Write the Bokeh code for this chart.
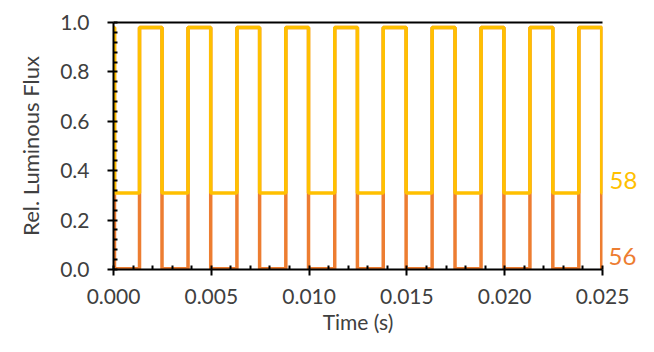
from bokeh.plotting import figure
from bokeh.models import (Range1d, SingleIntervalTicker, FixedTicker, NumeralTickFormatter,
                          LinearAxis, ColumnDataSource)
from bokeh.embed import file_html
from bokeh.resources import INLINE

# ---- data (time in ms) ----
rise_ms = [1.33, 3.81, 6.31, 8.81, 11.31, 13.79, 16.29, 18.79, 21.29, 23.79]
fall_ms = [0.05, 2.48, 4.97, 7.47, 9.97, 12.47, 14.96, 17.46, 19.96, 22.46, 24.96]
end_ms = 25.0
series_names = ["58", "56"]
high_levels = [0.98, 0.98]
low_levels = [0.31, 0.003]
series_colors = ["#FFC000", "#ED7D31"]
x_label = "Time (s)"
y_label = "Rel. Luminous Flux"


def square_wave(high, low):
    events = sorted([(f, "fall") for f in fall_ms] + [(r, "rise") for r in rise_ms])
    t = [0.0]
    y = [high]
    for when, kind in events:
        a, b = (high, low) if kind == "fall" else (low, high)
        t += [when / 1000.0, when / 1000.0]
        y += [a, b]
    t.append(end_ms / 1000.0)
    y.append(y[-1])
    return t, y


p = figure(width=654, height=352, output_backend="svg", toolbar_location=None,
           x_range=Range1d(0, 0.025), y_range=Range1d(0, 1.0),
           min_border_left=113, min_border_right=52, min_border_top=22, min_border_bottom=83)
p.outline_line_color = None
p.xgrid.visible = False
p.ygrid.visible = False
p.background_fill_color = "white"
p.border_fill_color = "white"

# draw orange first, yellow on top
for i in [1, 0]:
    t, y = square_wave(high_levels[i], low_levels[i])
    src = ColumnDataSource(dict(t=t, y=y))
    p.line("t", "y", source=src, line_color=series_colors[i], line_width=3.5)

font = "Lato"
txt_col = "#404040"

xa = p.xaxis[0]
xa.ticker = SingleIntervalTicker(interval=0.005, num_minor_ticks=5)
xa.formatter = NumeralTickFormatter(format="0.000")
ya = p.yaxis[0]
ya.ticker = SingleIntervalTicker(interval=0.2, num_minor_ticks=5)
ya.formatter = NumeralTickFormatter(format="0.0")

for ax in (xa, ya):
    ax.axis_line_color = "black"
    ax.axis_line_width = 2
    ax.major_tick_line_color = "black"
    ax.major_tick_line_width = 2
    ax.major_tick_out = 6
    ax.major_tick_in = 0
    ax.minor_tick_line_color = "black"
    ax.minor_tick_line_width = 2
    ax.minor_tick_in = 4
    ax.minor_tick_out = 0
    ax.major_label_text_font = font
    ax.major_label_text_font_size = "21px"
    ax.major_label_text_color = txt_col
    ax.axis_label_text_font = font
    ax.axis_label_text_font_style = "normal"
    ax.axis_label_text_color = txt_col

xa.axis_label = x_label
xa.axis_label_text_font_size = "21px"
xa.major_label_standoff = 13
xa.axis_label_standoff = 2
ya.axis_label = y_label
ya.axis_label_text_font_size = "22px"
ya.major_label_standoff = 18
ya.axis_label_standoff = 13

# top frame line
top = LinearAxis(ticker=FixedTicker(ticks=[]), axis_line_width=2, axis_line_color="black",
                 major_tick_out=0, major_tick_in=0, minor_tick_out=0, minor_tick_in=0)
p.add_layout(top, "above")

# series name labels at the right, next to each trace's low level
label_lift = 0.05
standoffs = [7, -32]
for i in range(2):
    pos = low_levels[i] + label_lift
    ax = LinearAxis(ticker=FixedTicker(ticks=[pos]), major_label_overrides={pos: series_names[i]},
                    axis_line_color=None, major_tick_out=0, major_tick_in=0,
                    minor_tick_out=0, minor_tick_in=0, major_label_standoff=standoffs[i],
                    major_label_text_font=font, major_label_text_font_size="24px",
                    major_label_text_color=series_colors[i])
    p.add_layout(ax, "right")

open("out.html", "w").write(file_html(p, INLINE))
